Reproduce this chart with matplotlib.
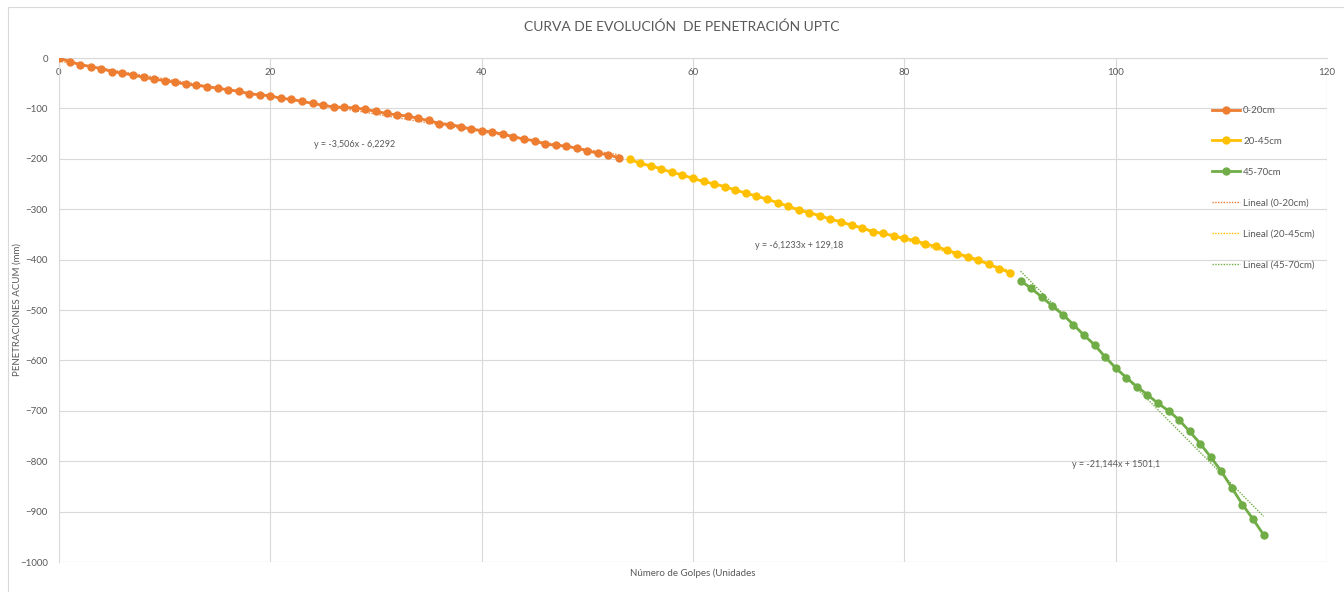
import numpy as np
import matplotlib
matplotlib.use("Agg")
import matplotlib.pyplot as plt
from matplotlib.patches import Rectangle

plt.rcParams['font.family'] = ['Lato', 'DejaVu Sans']

# Número de golpes y penetración acumulada (mm) por tramo
x_0_20 = list(range(0, 54))
y_0_20 = [0, -7, -13, -17, -21, -27, -30, -34, -38, -42,
          -45, -48, -52, -54, -57, -60, -63, -66, -71, -73,
          -75, -80, -82, -86, -90, -94, -97, -98, -99, -102,
          -106, -110, -113, -115, -120, -124, -130, -132, -136, -141,
          -144, -147, -151, -156, -161, -164, -171, -173, -175, -179,
          -184, -189, -192, -198]

x_20_45 = list(range(54, 91))
y_20_45 = [-201, -209, -214, -220, -227, -232, -239, -245, -250, -255,
           -262, -268, -274, -280, -287, -294, -302, -307, -313, -320,
           -325, -332, -337, -345, -348, -353, -358, -362, -369, -374,
           -381, -388, -394, -401, -409, -418, -426]

x_45_70 = list(range(91, 115))
y_45_70 = [-442, -457, -474, -492, -509, -529, -550, -569, -593, -615,
           -634, -652, -668, -685, -700, -718, -741, -765, -792, -820,
           -853, -886, -915, -946]

# líneas de tendencia (pendiente, intercepto) tal como aparecen en el gráfico
slopes = [-3.506, -6.1233, -21.144]
intercepts = [-6.2292, 129.18, 1501.1]
eq_labels = ["y = -3,506x - 6,2292", "y = -6,1233x + 129,18", "y = -21,144x + 1501,1"]
eq_pos = [(28, -172), (70, -372), (100, -807)]

series_names = ["0-20cm", "20-45cm", "45-70cm"]
colors = ["#ED7D31", "#FFC000", "#70AD47"]

TXT = "#595959"
GRID = "#D9D9D9"

fig = plt.figure(figsize=(13.44, 5.92), dpi=100)
ax = fig.add_axes([59 / 1344, 1 - 562 / 592, (1327 - 59) / 1344, (562 - 58) / 592])

xs = [x_0_20, x_20_45, x_45_70]
ys = [y_0_20, y_20_45, y_45_70]

handles = []
for x, y, c, name in zip(xs, ys, colors, series_names):
    h, = ax.plot(x, y, color=c, lw=2, marker='o', ms=5, label=name, zorder=3)
    handles.append(h)

for x, m, b, c, name in zip(xs, slopes, intercepts, colors, series_names):
    xx = np.array([x[0], x[-1]])
    h, = ax.plot(xx, m * xx + b, color=c, lw=1, ls=(0, (1, 1)),
                 label=f"Lineal ({name})", zorder=4)
    handles.append(h)

for (ex, ey), t in zip(eq_pos, eq_labels):
    ax.text(ex, ey, t, fontsize=6.5, color=TXT, ha='center', va='center')

ax.set_xlim(0, 120)
ax.set_ylim(-1000, 0)
ax.set_xticks(range(0, 121, 20))
ax.set_yticks(range(-1000, 1, 100))
ax.grid(True, color=GRID, lw=0.8)
ax.set_axisbelow(True)

# eje X en la parte superior (cruza en 0)
ax.xaxis.tick_top()
for s in ['right', 'bottom']:
    ax.spines[s].set_visible(False)
ax.spines['top'].set_color(GRID)
ax.spines['left'].set_color(GRID)
ax.tick_params(length=0, labelsize=7, colors=TXT)
ax.tick_params(axis='x', pad=-14)
ax.tick_params(axis='y', pad=8)
ax.axhline(-1000, color=GRID, lw=0.8)
ax.axvline(120, color=GRID, lw=0.8)

fig.text(693 / 1344, 1 - 573 / 592, "Número de Golpes (Unidades", fontsize=7,
         color=TXT, ha='center', va='center')
fig.text(17 / 1344, 1 - 310 / 592, "PENETRACIONES ACUM (mm)", fontsize=7,
         color=TXT, ha='center', va='center', rotation=90)
fig.text(682 / 1344, 1 - 27 / 592, "CURVA DE EVOLUCIÓN  DE PENETRACIÓN UPTC", fontsize=10,
         color=TXT, ha='center', va='center')

ax.legend(handles=handles, loc='upper left', bbox_to_anchor=(1212 / 1344, 1 - 106 / 592),
          bbox_transform=fig.transFigure, frameon=False, fontsize=7, labelcolor=TXT,
          labelspacing=2.25, handlelength=2.9, handletextpad=0.3, borderpad=0, borderaxespad=0)

fig.patches.append(Rectangle((8 / 1344, -0.1), 1.2, 1 - 7 / 592 + 0.1,
                             transform=fig.transFigure, fill=False,
                             edgecolor=GRID, lw=0.8))

fig.savefig("out.png", dpi=100)
